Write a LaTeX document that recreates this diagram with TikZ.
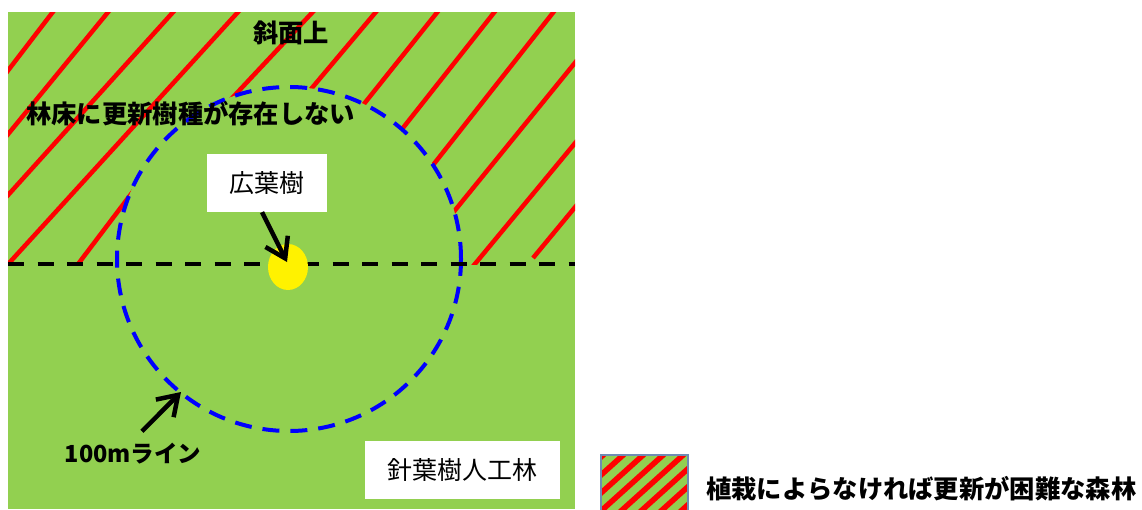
\documentclass[tikz,border=0pt]{standalone}
\usepackage{fontspec}
\setmainfont{Noto Sans CJK JP}
\usetikzlibrary{shapes.geometric,arrows.meta}
\definecolor{grass}{HTML}{92D050}
\definecolor{legendedge}{RGB}{110,140,180}
\begin{document}
\begin{tikzpicture}[x=1pt,y=-1pt,
  hatchline/.style={red,line width=4.5pt},
  lbl/.style={font=\fontsize{25.3}{30}\selectfont\bfseries, inner sep=0pt},
  smalllbl/.style={font=\fontsize{23.5}{28}\selectfont\bfseries, inner sep=0pt},
  boxlbl/.style={fill=white, font=\fontsize{25}{30}\selectfont, inner sep=0pt},
  arr/.style={line width=4.5pt, -{Straight Barb[length=19pt,width=25pt]}},
]
\useasboundingbox (0,0) rectangle (1142,509);
\fill[grass] (8,12) rectangle (575,509);
% hatch lines in the upper (slope) area
\begin{scope}
\clip (8,12) rectangle (575,264);
\draw[hatchline] (0,81) -- (62,0);
\draw[hatchline] (0,144) -- (118,0);
\draw[hatchline] (0,204) -- (184,0);
\draw[hatchline] (0,273) -- (249,0);
\draw[hatchline] (66,280) -- (150,169);
\draw[hatchline] (220,111) -- (324,0);
\draw[hatchline] (290,114) -- (386,0);
\draw[hatchline] (340,134) -- (447,0);
\draw[hatchline] (380,157) -- (504,0);
\draw[hatchline] (400,207) -- (563,0);
\draw[hatchline] (430,241) -- (600,32);
\draw[hatchline] (460,282) -- (600,113);
\draw[hatchline] (533,258) -- (600,177);
\end{scope}
% 100 m circle
\node[circle, minimum size=344pt, inner sep=0pt, fill=grass, draw=blue, line width=4pt,
      dash pattern=on 17pt off 11pt] (ring) at (289,259) {};
% boundary line
\coordinate (bl) at (8,264);
\coordinate (br) at (575,264);
\draw[line width=4.5pt, dash pattern=on 16pt off 13.5pt] (bl) -- (br);
% broadleaf tree
\node[ellipse, fill=yellow, minimum width=40pt, minimum height=46pt, inner sep=0pt] (tree) at (288,267) {};
% boxes
\node[boxlbl, minimum width=120pt, minimum height=58pt] (kw) at (267,183) {広葉樹};
\node[boxlbl, minimum width=195pt, minimum height=58pt] (sw) at (462,470) {針葉樹人工林};
\draw[arr] ([xshift=-5pt]kw.south) -- ([xshift=-1pt,yshift=5pt]tree.center);
% labels
\node[lbl] (slope) at (291,33) {斜面上};
\node[lbl, anchor=west] (noseed) at (26,114) {林床に更新樹種が存在しない};
\node[smalllbl] (lbl100) at (133,454) {100mライン};
\coordinate (c100) at (181,392);
\draw[arr] ([xshift=9pt,yshift=12pt]lbl100.north) -- (c100);
% legend
\begin{scope}
\clip (601,455) rectangle (688,515);
\fill[grass] (601,455) rectangle (688,515);
\foreach \i in {0,...,12} \draw[red, line width=5.5pt] ({491+20*\i},520) -- ++(160,-144);
\end{scope}
\draw[legendedge, line width=2pt] (601,455) rectangle (688,515);
\node[lbl, anchor=west] (legtxt) at (706,489) {植栽によらなければ更新が困難な森林};
\end{tikzpicture}
\end{document}
